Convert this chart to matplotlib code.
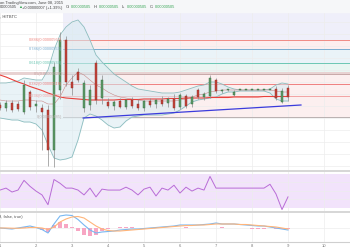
import matplotlib.pyplot as plt
from matplotlib.lines import Line2D
from matplotlib.patches import Rectangle
import numpy as np

plt.rcParams['font.family'] = ['Liberation Sans', 'DejaVu Sans']

# ---- data (4h candles, prices in satoshi) ----
start_day = 1
bars_per_day = 6

opens = [497, 494, 499, 498, 490, 510, 496, 494, 492, 452, 512, 562, 520, 530, 494, 497, 539,
         504, 500, 496, 501, 495, 502, 498, 494, 501, 498, 502, 499, 503, 495, 506, 498, 512,
         505, 506, 522, 511, 512, 507, 512, 512, 512, 512, 512, 512, 513, 500, 514]
highs = [500, 502, 502, 501, 522, 512, 502, 498, 497, 540, 570, 566, 527, 534, 522, 517, 542,
         527, 504, 502, 504, 503, 505, 503, 502, 504, 503, 506, 505, 508, 509, 508, 507, 514,
         510, 527, 524, 513, 513, 512, 512, 512, 512, 512, 512, 512, 516, 514, 517]
lows = [492, 491, 490, 491, 488, 492, 490, 452, 436, 435, 503, 516, 507, 520, 490, 492, 498,
        498, 494, 492, 494, 493, 494, 492, 491, 495, 494, 496, 495, 492, 493, 494, 495, 503,
        502, 504, 509, 509, 511, 506, 512, 512, 512, 512, 512, 512, 502, 499, 501]
closes = [494, 499, 492, 493, 517, 495, 498, 490, 452, 535, 562, 520, 514, 522, 519, 512, 502,
          522, 496, 500, 495, 502, 496, 494, 501, 497, 502, 498, 503, 494, 507, 496, 505, 505,
          508, 524, 511, 512, 512, 510, 512, 512, 512, 512, 512, 512, 504, 511, 505]

ma_red = [527, 525, 522.5, 520, 518, 515.5, 513.5, 511.5, 509, 507, 505, 504, 503.5, 503, 502.5,
          502, 502, 502, 502, 502, 502.5, 502.5, 502.5, 502.5, 503, 503, 503, 503, 503.5, 503.5,
          503.5, 504, 504, 504, 504, 504.5, 504.5, 504.5, 504.5, 505, 505, 505, 505, 505, 505.5,
          505.5, 505.5, 505.5, 505.5]
bb_upper = [519, 519, 520, 521, 524, 523, 522, 522, 532, 552, 567, 575, 580, 582, 575, 562, 547,
            540, 534, 528, 524, 520, 516, 513, 512, 511, 510, 509, 509, 509, 510, 512, 514, 516,
            517, 520, 520, 518, 515, 513, 512, 512, 512, 512, 512, 513, 517, 519, 518]
bb_lower = [484, 483, 482, 482, 480, 480, 478, 472, 457, 444, 442, 443, 445, 462, 484, 488, 486,
            482, 477, 474, 475, 481, 485, 486, 487, 487, 487, 487, 488, 489, 492, 496, 500, 502,
            503, 504, 505, 508, 510, 510, 511, 511, 511, 511, 511, 509, 503, 501, 501]
bb_basis = [502, 501, 501, 501, 502, 502, 501, 501, 498, 498, 505, 517, 524, 530, 527, 522, 517,
            514, 510, 507, 505, 504, 503, 502, 501, 501, 501, 501, 501, 501, 502, 503, 505, 507,
            508, 510, 511, 512, 512, 512, 512, 512, 512, 512, 512, 512, 511, 510, 510]

trend_days = [3.31, 9.36]
trend_prices = [484, 497]

fib_low, fib_high = 485, 572
fib_start = 2.75
fib_levels = [0, 0.236, 0.382, 0.5, 0.618, 0.786, 0.886]
fib_colors = ['#b9b0b0', '#f2a3a3', '#ef7f7f', '#c9a9a9', '#6cc7b4', '#79acd0', '#f08a84']
fib_fills = ['#fcefef', '#fcefef', '#fcefef', '#e9f6f2', '#eaf3f8', '#fdeeee', '#efeffa']

rsi = [50.6, 52.9, 48.3, 50.6, 62, 55, 49.4, 44.9, 33.4, 63, 58.6, 52.9, 52.9, 50.6, 44.9, 52.9,
       42.6, 51.7, 50.6, 50.6, 50.6, 54, 50.6, 44.9, 51.7, 54, 43.7, 52.9, 50.6, 56.3, 47.1, 54,
       49.4, 52.9, 50.6, 66.6, 52.9, 52.9, 52.9, 52.9, 52.9, 52.9, 52.9, 52.9, 52.9, 57.4, 46,
       27.7, 42.6]

macd = [0, -0.5, -1, 0, 1, 2, 0.5, -1.5, -5, 4, 12, 13, 12.5, 8.5, 3, -2, -5, -4, -3.5, -3, -2,
        -1.5, -1, -1, -0.5, 0, 0.5, 1, 1.5, 2, 3, 3, 3, 3, 3.5, 4, 5, 4, 4, 4, 3.5, 3, 2.5, 2, 2,
        1, 0, -1, -2]
signal = [0, 0, -0.2, -0.3, 0, 0.5, 0.5, 0, -1.5, 1, 6, 9, 11, 11.5, 10, 6, 2, -1, -2.5, -3, -3,
          -2.5, -2, -1.5, -1, -0.5, 0, 0.5, 1, 1.5, 2, 2.5, 2.5, 3, 3, 3.5, 4, 4, 4, 4, 3.5, 3.5,
          3, 2.5, 2, 1.5, 1, 0, -1]
hist = [0, -0.5, -0.8, 0.3, 1, 1.5, 0, -1.5, -3.5, 3, 6, 4, 1.5, -3, -7, -8, -7, -3, -1, 0, 1,
        1, 1, 0.5, 0.5, 0.5, 0.5, 0.5, 0.5, 0.5, 0.5, 1, 0.5, 0.5, 0, 0.5, 0.5, 1, 0, 0, 0, 0,
        -0.5, -0.5, -0.5, 0, -0.5, -1, -1]

day_ticks = list(range(1, 11))

# ---- layout (pixel boxes) ----
W, H = 350, 250
fig = plt.figure(figsize=(3.5, 2.5), dpi=100)


def box(x0, y0, x1, y1):
    return [x0 / W, 1 - y1 / H, (x1 - x0) / W, (y1 - y0) / H]


fig.patches.append(Rectangle((0, 1 - 12 / H), 1, 12 / H, transform=fig.transFigure,
                             color='#f6f7f9', zorder=0))

ax = fig.add_axes(box(0, 12, 350, 170))
ax_rsi = fig.add_axes(box(0, 171, 350, 211), sharex=ax)
ax_macd = fig.add_axes(box(0, 213, 350, 242), sharex=ax)

x = start_day + np.arange(len(closes)) / bars_per_day
xmax = start_day + W / 36.0

for a in (ax, ax_rsi, ax_macd):
    for s in a.spines.values():
        s.set_visible(False)
    a.set_xticks(day_ticks)
    a.grid(True, color='#ededed', lw=0.5)
    a.set_axisbelow(True)
    a.tick_params(length=0, labelleft=False, labelbottom=False)
ax.set_xlim(start_day, xmax)

# ---- main pane ----
ax.set_ylim(432, 590)
ax.set_yticks(np.arange(436, 590, 12))

fib_prices = [fib_low + (fib_high - fib_low) * lv for lv in fib_levels]
tops = fib_prices[1:] + [590]
for p, top, fc in zip(fib_prices, tops, fib_fills):
    ax.fill_between([fib_start, xmax], p, top, color=fc, lw=0, zorder=0.5)
for lv, p, c in zip(fib_levels, fib_prices, fib_colors):
    ax.plot([fib_start, xmax], [p, p], color=c, lw=0.7, zorder=0.8)
    ax.text(fib_start - 0.02, p, f'{lv}({p * 1e-8:.8f})', color=c, fontsize=2.9,
            ha='right', va='center', zorder=5)
ax.axhspan(fib_prices[3] - 1.8, fib_prices[3] + 1.8, color='#e8d2d2', lw=0, zorder=0.7)

ax.fill_between(x, bb_lower, bb_upper, color='#d7eaf1', alpha=0.55, lw=0, zorder=1)
ax.plot(x, bb_upper, color='#8cbdbf', lw=0.6, zorder=1.5)
ax.plot(x, bb_lower, color='#8cbdbf', lw=0.6, zorder=1.5)
ax.plot(x, bb_basis, color='#c98a8a', lw=0.4, zorder=1.5)
ax.plot(x, ma_red, color='#e8413c', lw=0.8, zorder=2)
ax.plot(trend_days, trend_prices, color='#3b3bdc', lw=0.9, zorder=2)

o = np.array(opens)
c = np.array(closes)
up = c >= o
ax.vlines(x, lows, highs, color='#8c8c8c', lw=0.5, zorder=3)
ax.bar(x, np.maximum(np.abs(c - o), 0.7), bottom=np.minimum(o, c), width=0.065,
       color=np.where(up, '#5f9a69', '#c2443a'), edgecolor=np.where(up, '#2f6b3c', '#8e2a24'),
       linewidth=0.3, zorder=4)

# ---- RSI pane ----
ax_rsi.set_ylim(26, 73)
ax_rsi.set_yticks([40, 50, 60])
ax_rsi.axhspan(30, 70, color='#f2e3fb', lw=0, zorder=0.5)
ax_rsi.plot(x, rsi, color='#b86cd6', lw=0.7, zorder=2)

# ---- MACD pane ----
ax_macd.set_ylim(-14, 15)
ax_macd.set_yticks([0])
ax_macd.bar(x, hist, width=0.1, color='#f7a6c3', zorder=1)
ax_macd.plot(x, macd, color='#78b7f2', lw=0.8, zorder=2)
ax_macd.plot(x, signal, color='#ffb57a', lw=0.8, zorder=2)
ax_macd.spines['bottom'].set_visible(True)
ax_macd.spines['bottom'].set_color('#cfcfcf')
ax_macd.spines['bottom'].set_linewidth(0.8)
ax_macd.tick_params(labelbottom=True, labelsize=3, colors='#777777', pad=1.5)
ax_macd.text(-0.003, 0.86, '9, false, true)', transform=ax_macd.transAxes, fontsize=2.9,
             color='#555555', va='center')

# pane separators
for yy in (170.5, 212):
    fig.add_artist(Line2D([0, 1], [1 - yy / H] * 2, color='#d6d6d6', lw=1.4))

# ---- header ----
def ftxt(px, py, s, color='#444444', **kw):
    fig.text(px / W, 1 - py / H, s, color=color, fontsize=2.9, va='center', **kw)


ftxt(0, 3, 'on TradingView.com, June 08, 2015')
ftxt(0, 7.5, '00000505')
ftxt(18.5, 7.5, '▲', color='#3aa757')
ftxt(22, 7.5, '+0.00000007 (+1.39%)')
for lab, px in (('O:', 66), ('H:', 94), ('L:', 122), ('C:', 150)):
    ftxt(px, 7.5, lab)
    ftxt(px + 4.5, 7.5, '0.00000505', color='#3aa757')
ftxt(-1.5, 17, '0, HITBTC')

fig.savefig('out.png', dpi=100)
